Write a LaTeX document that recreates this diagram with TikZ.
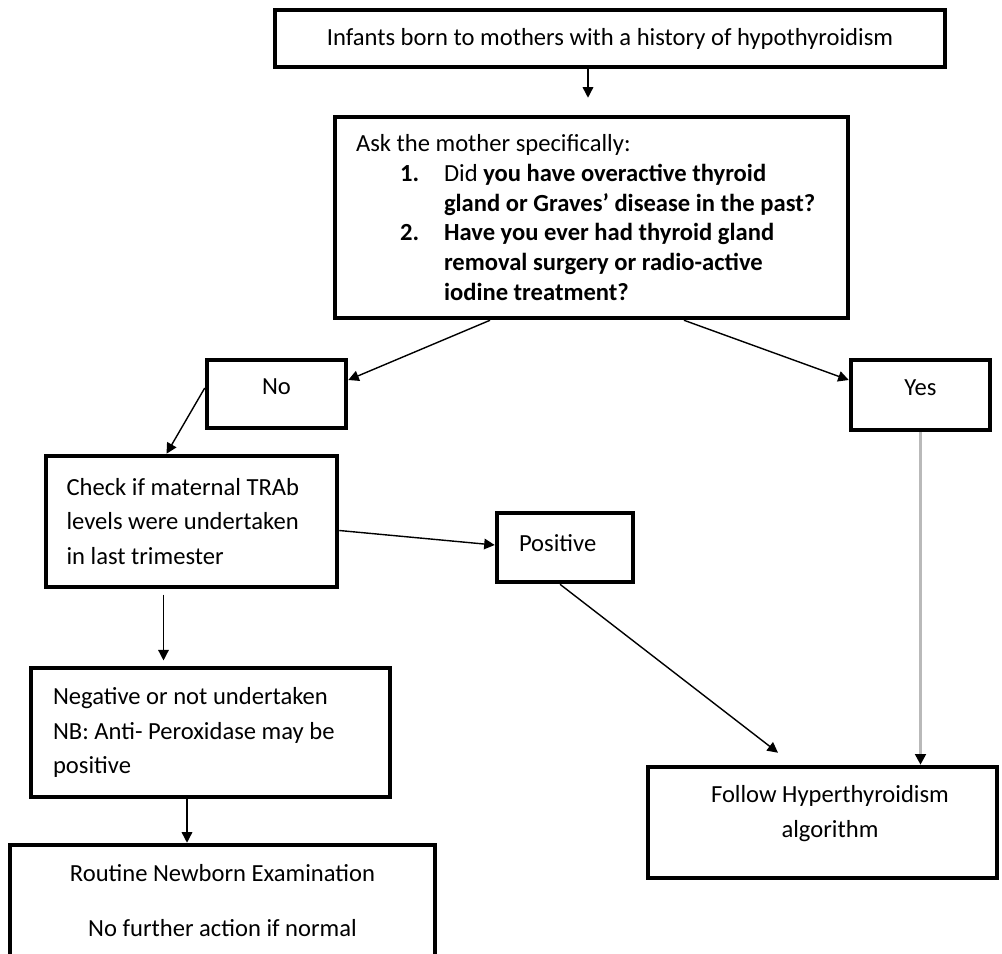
\documentclass[tikz,border=0pt]{standalone}
\usepackage{fontspec}
\setmainfont{Carlito}
\usetikzlibrary{arrows.meta}

\begin{document}
\begin{tikzpicture}[x=0.02cm,y=-0.02cm,
  box/.style={draw=black,line width=2.6pt,fill=white,inner sep=0pt,text=black,font=\fontsize{14}{17}\selectfont},
  arr/.style={draw=black,line width=0.8pt,-{Triangle[length=6pt,width=6pt]}}]
\useasboundingbox (0,0) rectangle (1002,954);

\node[box,minimum width=13.4cm,minimum height=1.14cm] (top) at (610,38.5) {Infants born to mothers with a history of hypothyroidism};
\node[box,align=flush left,text width=10cm,minimum width=10.26cm,minimum height=4.02cm] (ask) at (591.5,217.5) {\hspace*{0.29cm}Ask the mother specifically:\\
\hspace*{1.17cm}\makebox[0.88cm][l]{\textbf{1.}}Did \textbf{you have overactive thyroid}\\
\hspace*{2.05cm}\textbf{gland or Graves’ disease in the past?}\\
\hspace*{1.17cm}\makebox[0.88cm][l]{\textbf{2.}}\textbf{Have you ever had thyroid gland}\\
\hspace*{2.05cm}\textbf{removal surgery or radio-active}\\
\hspace*{2.05cm}\textbf{iodine treatment?}};

\node[box,text depth=0.3cm,minimum width=2.78cm,minimum height=1.36cm] (no) at (276.5,394) {No};
\node[box,text depth=0.3cm,minimum width=2.78cm,minimum height=1.4cm] (yes) at (920.5,395) {Yes};

\node[box,font=\fontsize{14}{19.6}\selectfont,align=flush left,text width=5cm,minimum width=5.82cm,minimum height=2.62cm] (check) at (191.5,521.5) {Check if maternal TRAb\\levels were undertaken\\in last trimester};
\node[box,text depth=0.2cm,align=flush left,text width=1.84cm,minimum width=2.72cm,minimum height=1.38cm] (positive) at (565,547.5) {Positive};

\node[box,font=\fontsize{14}{19.6}\selectfont,align=flush left,text width=6.3cm,minimum width=7.18cm,minimum height=2.58cm] (negative) at (210.5,732.5) {Negative or not undertaken\\NB: Anti- Peroxidase may be\\positive};
\node[box,font=\fontsize{14}{31}\selectfont,align=center,minimum width=8.5cm,minimum height=2.22cm] (routine) at (222.5,900.5) {Routine Newborn Examination\\No further action if normal};
\node[box,font=\fontsize{14}{19.8}\selectfont,align=center,text depth=0.45cm,minimum width=6.98cm,minimum height=2.22cm] (follow) at (822.5,822.5) {\hspace*{0.3cm}Follow Hyperthyroidism\\\hspace*{0.3cm}algorithm};

% connectors
\draw[arr] ([xshift=-0.07cm]ask.north |- top.south) -- ([xshift=-0.07cm,yshift=0.34cm]ask.north);
\draw[arr] ([xshift=-2.03cm]ask.south) -- ([yshift=0.28cm]no.east);
\draw[arr] ([xshift=1.85cm]ask.south) -- ([yshift=0.3cm]yes.west);
\draw[arr] ([yshift=0.12cm]no.west) -- ([xshift=-0.5cm]check.north);
\draw[arr] ([yshift=-0.18cm]check.east) -- ([yshift=0.05cm]positive.west);
\draw[arr,shorten <=3pt,shorten >=3pt] ([xshift=-0.56cm]check.south) -- ([xshift=-0.56cm]check.south |- negative.north);
\draw[arr] ([xshift=-0.47cm]negative.south) -- ([xshift=-0.47cm]negative.south |- routine.north);
\draw[arr] ([xshift=-0.1cm]positive.south) -- ([xshift=-0.89cm,yshift=0.24cm]follow.north);
\draw[line width=1.6pt,gray!55,-{Triangle[length=6pt,width=6pt,color=black]}] (yes.south) -- (yes.south |- follow.north);

\end{tikzpicture}
\end{document}
